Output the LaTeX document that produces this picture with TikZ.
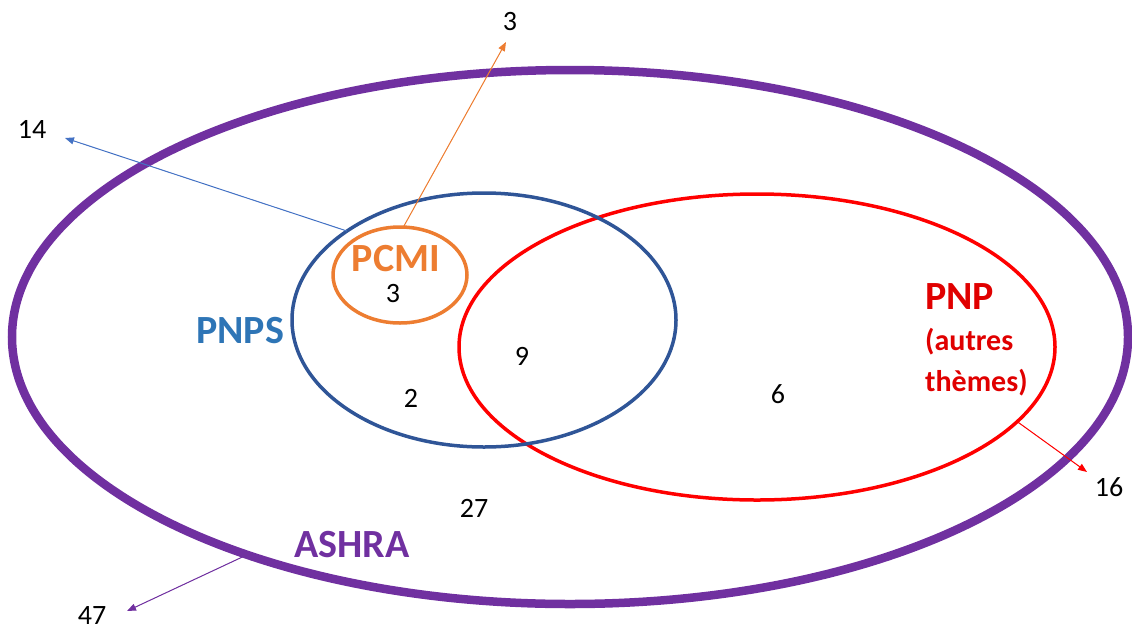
\documentclass[tikz,border=0pt]{standalone}
\usepackage{fontspec}
\setmainfont{Carlito}
\usetikzlibrary{shapes.geometric,arrows.meta}
\definecolor{ashra}{HTML}{7030A0}
\definecolor{pnpsline}{HTML}{2F5597}
\definecolor{pnpstext}{HTML}{2E75B6}
\definecolor{pcmi}{HTML}{ED7D31}
\definecolor{pnp}{HTML}{FF0000}
\definecolor{pnptext}{HTML}{E00000}
\definecolor{pointer}{HTML}{4472C4}
\begin{document}
\begin{tikzpicture}[x=1pt,y=-1pt,
  set/.style={ellipse,draw,inner sep=0pt,outer sep=0pt},
  bigname/.style={font=\fontsize{40}{44}\selectfont\bfseries},
  count/.style={font=\fontsize{28}{30}\selectfont,text=black,inner sep=1pt},
  pointer/.style={-{Triangle[length=9pt,width=7pt]},line width=1pt}]
\useasboundingbox (0,0) rectangle (1132,630);

% the four sets
\node[set,draw=ashra,line width=8.5pt,minimum width=1116pt,minimum height=534pt] (ashra) at (570,337) {};
\node[set,draw=pnp,line width=3.5pt,minimum width=596pt,minimum height=306pt] (pnp) at (757,347) {};
\node[set,draw=pnpsline,line width=3.5pt,minimum width=384pt,minimum height=254pt] (pnps) at (484,320) {};
\node[set,draw=pcmi,line width=3.5pt,minimum width=134pt,minimum height=96pt] (pcmi) at (400,275) {};

% set names
\node[bigname,text=pcmi,inner sep=0pt] (pcminame) at (396,259) {PCMI};
\node[bigname,text=pnpstext] (pnpsname) at (240,331) {PNPS};
\node[bigname,text=ashra] (ashraname) at (352,545) {ASHRA};
\node[bigname,text=pnptext,anchor=west,inner sep=0pt] (pnpname) at (925,297) {PNP};
\node[font=\fontsize{30}{41}\selectfont\bfseries,text=pnptext,align=left,anchor=west,inner sep=0pt] (pnpsub) at (925,362) {(autres\\thèmes)};

% counts inside the sets
\node[count,inner sep=0pt] (n3in) at (393,294) {3};
\node[count] (n9) at (522,356) {9};
\node[count] (n2) at (411,398) {2};
\node[count] (n6) at (778,394) {6};
\node[count] (n27) at (474,508) {27};

% totals outside the sets
\node[count] (t14) at (32,129) {14};
\node[count] (t3) at (510,22) {3};
\node[count] (t16) at (1109,487) {16};
\node[count] (t47) at (92,615) {47};

\coordinate (e14) at (65,138);
\coordinate (e3) at (506,42);
\coordinate (e16) at (1087,472);
\coordinate (e47) at (127,611);

% pointers to the totals
\draw[pointer,draw=pointer,fill=pointer] (pnps.147) -- (e14);
\draw[pointer,draw=pcmi,fill=pcmi] (pcmi.86) -- (e3);
\draw[pointer,draw=pnp,fill=pnp] (pnp.-16) -- (e16);
\draw[pointer,draw=ashra,fill=ashra] (ashra.214) -- (e47);
\end{tikzpicture}
\end{document}
